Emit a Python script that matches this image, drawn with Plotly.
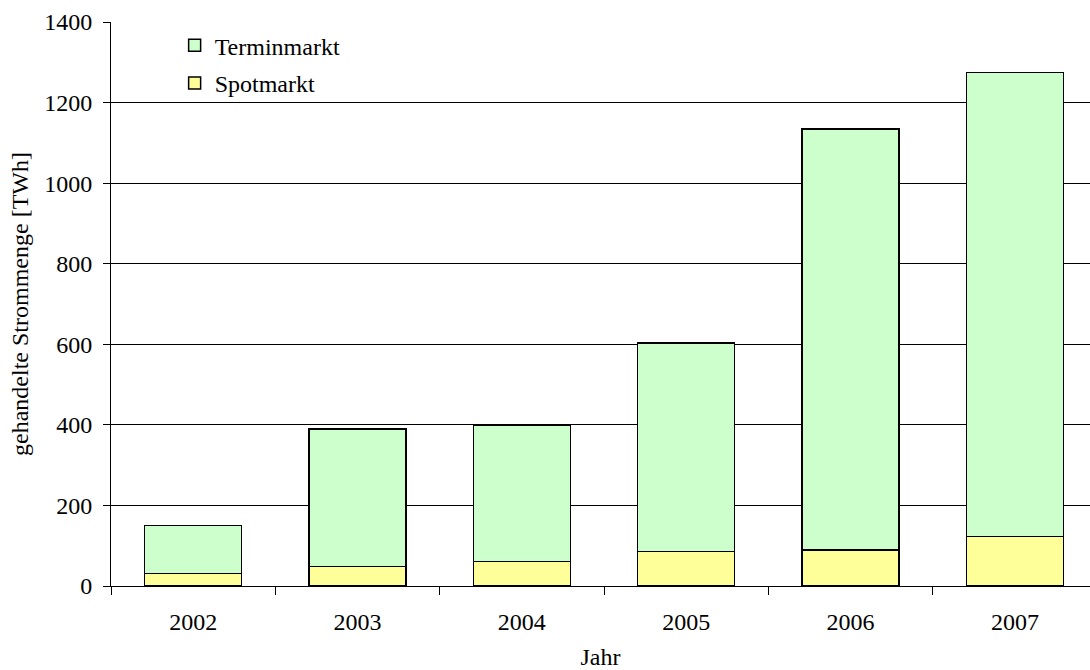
import plotly.graph_objects as go

# Gehandelte Strommengen an der Börse (TWh)
jahre = ["2002", "2003", "2004", "2005", "2006", "2007"]
spotmarkt = [31, 49, 61, 86, 89, 123]
terminmarkt = [119, 341, 337, 517, 1045, 1152]

y_ticks = [0, 200, 400, 600, 800, 1000, 1200, 1400]

FONT = "Liberation Serif, Times New Roman, serif"
FS = 24

fig = go.Figure()
fig.add_trace(go.Bar(
    x=jahre, y=spotmarkt, name="Spotmarkt",
    marker=dict(color="#FFFF99", line=dict(color="#000000", width=1.5)),
    legend="legend2",
))
fig.add_trace(go.Bar(
    x=jahre, y=terminmarkt, name="Terminmarkt",
    marker=dict(color="#CCFFCC", line=dict(color="#000000", width=1.5)),
    legend="legend",
))

legend_style = dict(
    xref="paper", yref="paper", xanchor="left", yanchor="middle",
    bgcolor="rgba(0,0,0,0)", font=dict(family=FONT, size=FS, color="#000000"),
    itemwidth=30,
)

fig.update_layout(
    width=1090, height=670,
    margin=dict(l=111, r=0, t=21.5, b=83.5),
    paper_bgcolor="white", plot_bgcolor="white",
    barmode="stack", bargap=0.41,
    font=dict(family=FONT, size=FS, color="#000000"),
    showlegend=True,
    legend=dict(x=0.065, y=0.958, **legend_style),
    legend2=dict(x=0.065, y=0.891, **legend_style),
    xaxis=dict(
        type="category", range=[-0.5, 5.457],
        showline=True, linecolor="#000000", linewidth=1,
        ticks="outside", tickson="boundaries", ticklen=8, tickcolor="#000000",
        ticklabelstandoff=14,
        showgrid=False,
        title=dict(text="Jahr", standoff=16, font=dict(size=FS)),
        tickfont=dict(size=FS),
    ),
    yaxis=dict(
        range=[0, 1400], tickvals=y_ticks,
        showline=True, linecolor="#000000", linewidth=1,
        ticks="outside", ticklen=7, tickcolor="#000000",
        ticklabelstandoff=6,
        showgrid=True, gridcolor="#000000", gridwidth=1,
        zeroline=False,
        title=dict(text="gehandelte Strommenge [TWh]", standoff=8, font=dict(size=FS)),
        tickfont=dict(size=FS),
    ),
)

fig.write_html("out.html")
